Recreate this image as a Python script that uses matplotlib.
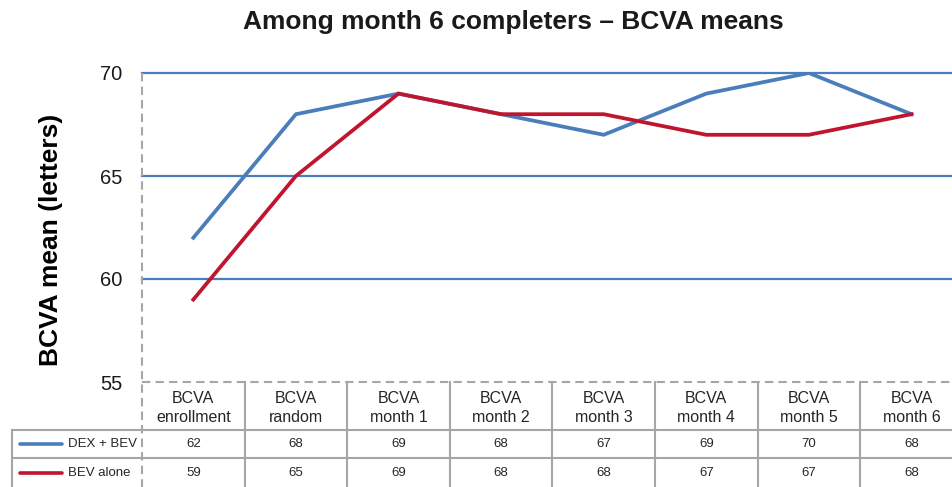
import numpy as np
import matplotlib.pyplot as plt
import matplotlib.transforms as mtransforms
from matplotlib.lines import Line2D

plt.rcParams["font.family"] = ["Liberation Sans", "DejaVu Sans"]

# ------------------ data ------------------
categories = ["BCVA\nenrollment", "BCVA\nrandom", "BCVA\nmonth 1", "BCVA\nmonth 2",
              "BCVA\nmonth 3", "BCVA\nmonth 4", "BCVA\nmonth 5", "BCVA\nmonth 6"]
dex_bev = [62, 68, 69, 68, 67, 69, 70, 68]
bev_alone = [59, 65, 69, 68, 68, 67, 67, 68]
series_names = ["DEX + BEV", "BEV alone"]
yticks = [55, 60, 65, 70]

BLUE = "#4A7EBB"
RED = "#C0152F"
GRID_GRAY = "#A6A6A6"
TXT = "#262626"

W, H = 953, 487


def fy(px):
    # pixel row from top -> figure fraction
    return 1 - px / H


fig = plt.figure(figsize=(W / 100, H / 100), dpi=100)
col_w = 102.6
ax = fig.add_axes([142 / W, fy(382), (W - 142) / W, fy(73) - fy(382)])
x = np.arange(len(categories))
ax.set_xlim(-0.5, -0.5 + (W - 142) / col_w)
ax.set_ylim(55, 70)

# horizontal gridlines (blue) + dashed base line
for v in yticks:
    if v == 55:
        ax.axhline(v, color=GRID_GRAY, lw=1.5, ls=(0, (4, 2.5)), clip_on=False, zorder=1)
    else:
        ax.axhline(v, color=BLUE, lw=1.6, clip_on=False, zorder=1)

ax.plot(x, dex_bev, color=BLUE, lw=2.7, zorder=3, solid_joinstyle="miter")
ax.plot(x, bev_alone, color=RED, lw=2.7, zorder=4, solid_joinstyle="miter")

for s in ax.spines.values():
    s.set_visible(False)
ax.set_xticks([])
ax.set_yticks(yticks)
ax.tick_params(axis="y", length=0, pad=14, labelsize=14.5, labelcolor="#1a1a1a")

fig.text(51 / W, fy(240), "BCVA mean (letters)", rotation=90, ha="center", va="center",
         fontsize=19, fontweight="bold", color="black")
fig.text(513 / W, fy(22), "Among month 6 completers \u2013 BCVA means",
         ha="center", va="center", fontsize=19, fontweight="bold", color="#1a1a1a")

# ------------------ data table under the chart ------------------
trans = mtransforms.blended_transform_factory(ax.transData, fig.transFigure)
rows = [dex_bev, bev_alone]
colors = [BLUE, RED]

# left dashed axis line all the way down
fig.add_artist(Line2D([142 / W, 142 / W], [fy(73), 0], transform=fig.transFigure,
                      color=GRID_GRAY, lw=1.5, ls=(0, (4, 2.5))))
# column separators
for i in range(1, len(categories) + 1):
    fig.add_artist(Line2D([i - 0.5, i - 0.5], [fy(382), 0], transform=trans,
                          color=GRID_GRAY, lw=1.5))
# row separators
for ypx in [430, 458]:
    fig.add_artist(Line2D([12 / W, 1], [fy(ypx), fy(ypx)], transform=fig.transFigure,
                          color=GRID_GRAY, lw=1.5))
fig.add_artist(Line2D([12 / W, 12 / W], [fy(430), 0], transform=fig.transFigure,
                      color=GRID_GRAY, lw=1.5))

for i, c in enumerate(categories):
    fig.text(x[i], fy(408), c, transform=trans, ha="center", va="center",
             fontsize=11.5, color=TXT, linespacing=1.35)

row_y = [444, 473]
for r, (vals, col, name) in enumerate(zip(rows, colors, series_names)):
    fig.add_artist(Line2D([20 / W, 62 / W], [fy(row_y[r]), fy(row_y[r])],
                          transform=fig.transFigure, color=col, lw=2.6,
                          solid_capstyle="round"))
    fig.text(68 / W, fy(row_y[r]), name, ha="left", va="center", fontsize=9.5, color=TXT)
    for i, v in enumerate(vals):
        fig.text(x[i], fy(row_y[r]), str(v), transform=trans, ha="center", va="center",
                 fontsize=9.5, color=TXT)

fig.savefig("out.png", dpi=100)
